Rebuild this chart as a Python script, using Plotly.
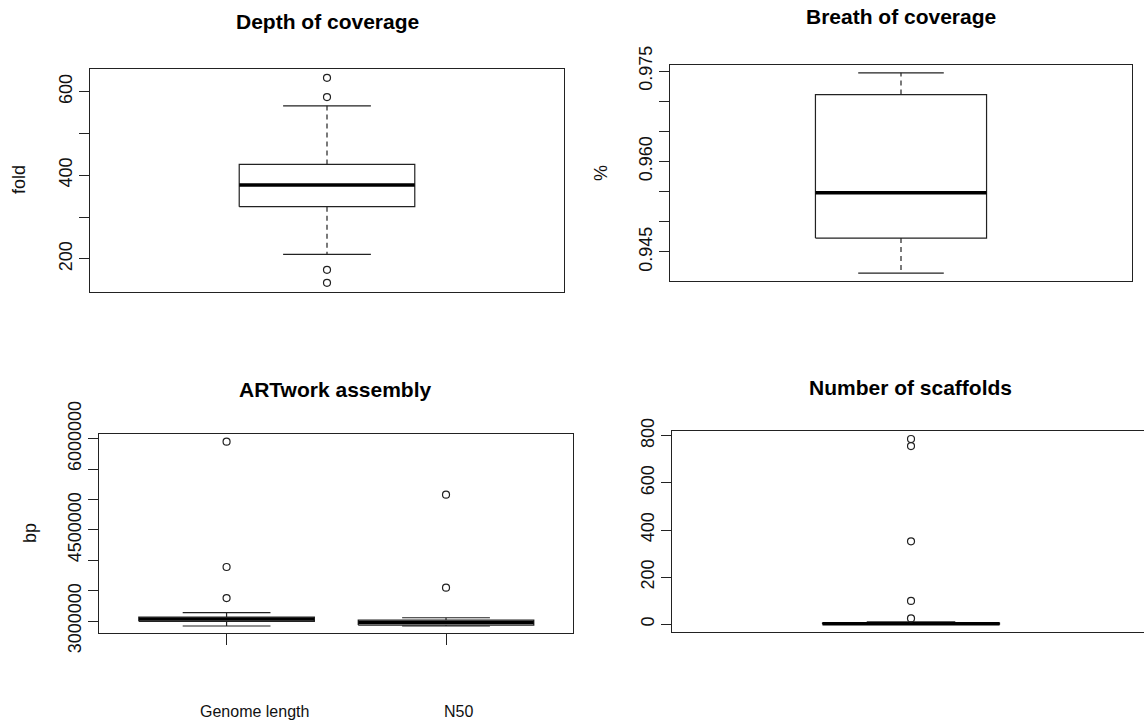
import plotly.graph_objects as go

# ---------------- data ----------------
depth_stats = [211, 325, 377, 426, 566]            # lower, q1, median, q3, upper
depth_outliers = [633, 587, 174, 143]

breadth_stats = [0.9415, 0.9473, 0.9548, 0.9711, 0.9747]
breadth_outliers = []

assembly_categories = ["Genome length", "N50"]
genome_length_stats = [2918000, 2995000, 3033000, 3066000, 3137000]
genome_length_outliers = [5951000, 3889000, 3378000]
n50_stats = [2918000, 2934000, 2975000, 3016000, 3054000]
n50_outliers = [5078000, 3548000]

scaffold_stats = [0, 1, 2, 5, 10]
scaffold_outliers = [786, 756, 352, 99, 25]

depth_ticks = [200, 300, 400, 500, 600]
depth_ticktext = ["200", "", "400", "", "600"]
breadth_ticks = [0.945, 0.950, 0.955, 0.960, 0.965, 0.970, 0.975]
breadth_ticktext = ["0.945", "", "", "0.960", "", "", "0.975"]
assembly_ticks = [3000000, 3500000, 4000000, 4500000, 5000000, 5500000, 6000000]
assembly_ticktext = ["3000000", "", "", "4500000", "", "", "6000000"]
scaffold_ticks = [0, 200, 400, 600, 800]
scaffold_ticktext = ["0", "200", "400", "600", "800"]

titles = ["Depth of coverage", "Breath of coverage", "ARTwork assembly", "Number of scaffolds"]
ylabels = ["fold", "%", "bp", ""]

# ---------------- layout helpers ----------------
W, H = 1144, 722
FONT = "Liberation Sans, Arial, sans-serif"


def px_x(p):
    return p / W


def px_y(p):
    return 1 - p / H


fig = go.Figure()


def add_box(xa, ya, center, width, stats, outliers):
    lo, q1, med, q3, hi = stats
    half = width / 2
    cap = width / 4
    # box
    fig.add_trace(go.Scatter(
        x=[center - half, center + half, center + half, center - half, center - half],
        y=[q1, q1, q3, q3, q1], mode="lines", xaxis=xa, yaxis=ya,
        line=dict(color="#222", width=1.2), fill="toself", fillcolor="white",
        hoverinfo="skip", showlegend=False))
    # whiskers (dashed)
    fig.add_trace(go.Scatter(
        x=[center, center, None, center, center], y=[q3, hi, None, q1, lo],
        mode="lines", xaxis=xa, yaxis=ya,
        line=dict(color="#222", width=1.2, dash="5px,4px"),
        hoverinfo="skip", showlegend=False))
    # caps
    fig.add_trace(go.Scatter(
        x=[center - cap, center + cap, None, center - cap, center + cap],
        y=[hi, hi, None, lo, lo], mode="lines", xaxis=xa, yaxis=ya,
        line=dict(color="#222", width=1.2), hoverinfo="skip", showlegend=False))
    # median
    fig.add_trace(go.Scatter(
        x=[center - half, center + half], y=[med, med], mode="lines",
        xaxis=xa, yaxis=ya, line=dict(color="black", width=3.5),
        hoverinfo="skip", showlegend=False))
    # outliers
    if outliers:
        fig.add_trace(go.Scatter(
            x=[center] * len(outliers), y=outliers, mode="markers",
            xaxis=xa, yaxis=ya,
            marker=dict(symbol="circle-open", size=7, color="#222", line=dict(width=1.2)),
            hoverinfo="skip", showlegend=False))


add_box("x", "y", 1, 0.4, depth_stats, depth_outliers)
add_box("x2", "y2", 1, 0.4, breadth_stats, breadth_outliers)
add_box("x3", "y3", 1, 0.8, genome_length_stats, genome_length_outliers)
add_box("x3", "y3", 2, 0.8, n50_stats, n50_outliers)
add_box("x4", "y4", 1, 0.4, scaffold_stats, scaffold_outliers)

# panel pixel boxes: left, right, top, bottom
panels = [
    (90, 564, 69, 292),
    (670, 1132, 65, 281),
    (99.3, 573.3, 433.7, 633.3),
    (672, 1144, 431, 632.3),
]

tick_font = dict(family=FONT, size=18, color="#111")
yspecs = [
    ([121, 654], depth_ticks, depth_ticktext),
    ([0.94018, 0.9760], breadth_ticks, breadth_ticktext),
    ([2798000, 6082000], assembly_ticks, assembly_ticktext),
    ([-34, 820], scaffold_ticks, scaffold_ticktext),
]
xranges = [[0.46, 1.54], [0.46, 1.54], [0.42, 2.58], [0.46, 1.5264]]

layout_axes = {}
for i, ((l, r, t, b), (yr, tv, tt), xr) in enumerate(zip(panels, yspecs, xranges)):
    sfx = "" if i == 0 else str(i + 1)
    xa = dict(domain=[px_x(l), px_x(r)], range=xr, anchor="y" + sfx,
              showgrid=False, zeroline=False, showline=True, linecolor="#222",
              linewidth=1.2, mirror=True, showticklabels=False, ticks="",
              fixedrange=True, automargin=False)
    if i == 2:
        xa.update(tickvals=[1, 2], ticks="outside", ticklen=11, tickwidth=1.2,
                  tickcolor="#222")
    ya = dict(domain=[px_y(b), px_y(t)], range=yr, anchor="x" + sfx,
              showgrid=False, zeroline=False, showline=True, linecolor="#222",
              linewidth=1.2, mirror=(i != 3), tickvals=tv, ticktext=tt,
              ticks="outside", ticklen=10, tickwidth=1.2, tickcolor="#222",
              tickangle=-90, tickfont=tick_font, fixedrange=True,
              automargin=False)
    layout_axes["xaxis" + sfx] = xa
    layout_axes["yaxis" + sfx] = ya

annotations = []
title_pos = [(327, 21), (901, 17), (335, 390), (910, 387)]
for txt, (x, y) in zip(titles, title_pos):
    annotations.append(dict(text="<b>%s</b>" % txt, x=px_x(x), y=px_y(y),
                            xref="paper", yref="paper", xanchor="center",
                            yanchor="middle", showarrow=False,
                            font=dict(family=FONT, size=21, color="black")))
ylab_pos = [(19, 180), (601, 173), (30, 533), None]
for txt, pos in zip(ylabels, ylab_pos):
    if not txt:
        continue
    annotations.append(dict(text=txt, x=px_x(pos[0]), y=px_y(pos[1]),
                            xref="paper", yref="paper", xanchor="center",
                            yanchor="middle", textangle=-90, showarrow=False,
                            font=dict(family=FONT, size=18, color="#111")))
cat_pos = [(254, 711), (459, 711)]
for txt, (x, y) in zip(assembly_categories, cat_pos):
    annotations.append(dict(text=txt, x=px_x(x), y=px_y(y), xref="paper",
                            yref="paper", xanchor="center", yanchor="middle",
                            showarrow=False,
                            font=dict(family=FONT, size=16, color="#111")))

fig.update_layout(
    width=W, height=H, autosize=False,
    margin=dict(l=0, r=0, t=0, b=0, autoexpand=False),
    paper_bgcolor="white", plot_bgcolor="white",
    showlegend=False, annotations=annotations,
    **layout_axes,
)

fig.write_html(
    "out.html",
    config={"displayModeBar": False},
    post_script="document.body.style.margin='0px';document.body.style.overflow='hidden';",
)
